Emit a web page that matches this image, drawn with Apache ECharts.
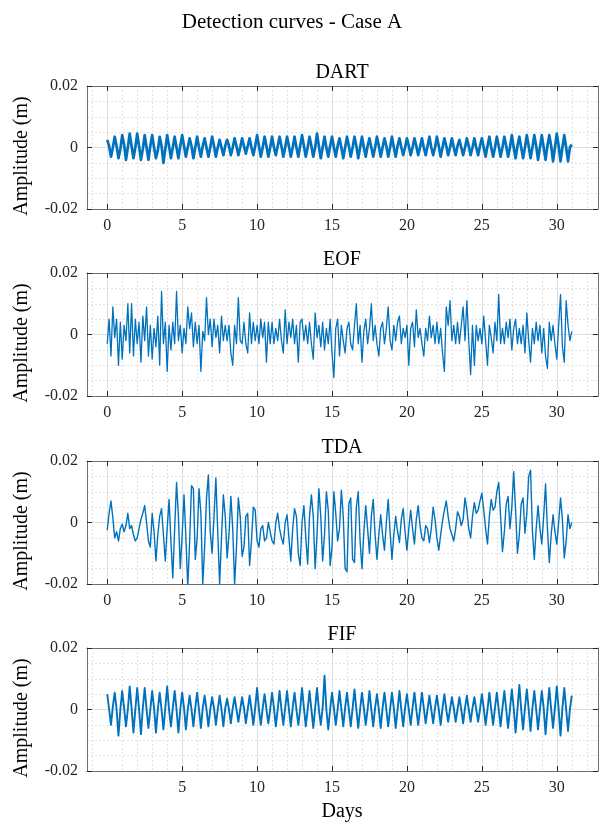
<!DOCTYPE html>
<html>
<head>
<meta charset="utf-8">
<script src="https://cdn.jsdelivr.net/npm/echarts@6/dist/echarts.min.js"></script>
<style>
  html, body { margin: 0; padding: 0; background: #ffffff; }
  #chart { width: 599px; height: 823px; }
</style>
</head>
<body>
<div id="chart"></div>
<script>
// Detection curves, Case A: four detectors sampled every 3 hours over 31 days.
const figureTitle = 'Detection curves - Case A';
const panelNames = ['DART', 'EOF', 'TDA', 'FIF'];
const sampleStepDays = 0.125;
const dayTicks = [0, 5, 10, 15, 20, 25, 30];
const bottomDayTicks = [5, 10, 15, 20, 25, 30];
const amplitudeTicks = [-0.02, 0, 0.02];

// Amplitudes in millimetres, one row per day (8 samples per day), last value at day 31.
const dartMm = [
  2.5, 0.5, -3, 0, 3.5, 0.5, -3.5, -0.5,
  4, 1, -4, 0, 4.5, 0.5, -3.5, 0,
  4.5, 0.5, -4, -0.5, 4, 0, -4, 0.5,
  4, 0, -3.5, -1, 3.5, 0.5, -5, -0.5,
  4, 0.5, -3.5, 0, 3.5, 0, -3.5, 0.5,
  4, 0.5, -3, 0, 3, 0.5, -3.5, 0,
  3.5, 0, -3, 0.5, 3, 0, -3, 0,
  3.5, 0.5, -3, 0, 2.5, 0, -2.5, 0.5,
  2.5, 0.5, -2.5, 0, 3, 0.5, -2.5, 0,
  3, 0.5, -2, 0.5, 3, 0, -2.5, 0.5,
  4, 0.5, -3, 0, 3.5, 0.5, -3, 0,
  3.5, 0, -2.5, 0.5, 3.5, 0.5, -3, 0,
  3.5, 0.5, -3, 0, 3.5, 0, -3, 0.5,
  4, 0.5, -3, 0, 3.5, 0.5, -3, 0,
  4.5, 0.5, -3.5, 0, 3.5, 0, -3, 0.5,
  3.5, 0, -3, 0.5, 3, 0, -3.5, 0,
  3.5, 0.5, -3, 0, 3.5, 0.5, -3.5, 0,
  3.5, 0, -3, 0.5, 3, 0, -3, 0,
  3.5, 0.5, -3, 0, 3, 0.5, -3, 0,
  3.5, 0, -3, 0.5, 3, 0, -2.5, 0,
  3, 0.5, -2.5, 0, 3, 0.5, -2.5, 0,
  3, 0, -2.5, 0.5, 3.5, 0, -2.5, 0,
  3.5, 0.5, -3, 0, 3, 0.5, -2.5, 0,
  3, 0, -2.5, 0.5, 2.5, 0, -2.5, 0,
  3, 0.5, -2.5, 0, 3, 0, -2.5, 0.5,
  3, 0, -3, 0.5, 3.5, 0, -3, 0,
  3.5, 0.5, -3, 0, 3.5, 0.5, -3, 0,
  4, 0, -3.5, 0.5, 3.5, 0, -3.5, 0,
  4, 0.5, -3.5, 0, 4, 0.5, -4, 0,
  4, 0, -4, 0.5, 4, 0.5, -4.5, 0,
  4.5, 0.5, -4.5, 0, 4, 0, -4.5, 0,
  1
];

const eofMm = [
  -3, 5, -7, 9, -1, 5, -10, 4,
  -8, 3, -2, 10, -6, 10, -7, 5,
  -3, 4, -9, 6, -2, 9, -7, 3,
  -8, 2, -4, 6, -10, 14, -3, 4,
  -12, 3, -5, 4, -3, 14, -2, 3,
  -6, 2, -3, 9, 2, 7, -4, 4,
  -3, 3, -12, 1, -2, 12, 0, 5,
  -4, 5, -1, 3, -6, 6, -2, 3,
  -2, 3, -6, -10, 3, -3, 12, -2,
  -3, 4, -3, -6, 7, -3, 4, -2,
  3, -3, 5, -1, 4, -9, 4, -3,
  4, -3, 2, -2, 5, -2, -6, 8,
  -3, 4, -1, 5, -3, 3, -9, 4,
  5, -2, 3, -3, 4, -3, -8, 7,
  -1, 3, -4, 4, -5, 2, -3, 5,
  -6, -14, 2, 5, -7, 3, -2, -6,
  2, 4, -3, -5, 3, 10, -3, 3,
  -9, 1, 5, -3, 2, 10, -2, 3,
  -3, -7, 2, 4, -3, 2, 9, -2,
  -5, 3, -2, 4, 6, -3, 2, -1,
  3, -10, 2, 4, -4, 8, -1, 2,
  -3, -7, 2, -2, 6, -1, 3, -3,
  4, -3, 2, -6, -12, 9, 3, 11,
  -2, 3, -3, 4, -3, 3, 9, -2,
  11, -2, -13, 3, -10, 3, -2, 2,
  -3, 6, -2, -10, 3, -1, -6, 4,
  -2, 13, -3, 2, -3, 4, -1, 5,
  -5, 2, 5, -3, 2, -3, 3, -6,
  7, -2, -9, 2, -3, 4, -2, 3,
  -6, 2, -7, -11, 4, -2, 3, -3,
  -8, 3, 13, -4, -9, 11, 3, -2,
  1
];

const tdaMm = [
  -2.5, 3, 7, 1.5, -5, -3, -6, -2,
  -0.5, -3, -1, 3, -2, -1, -4, -6,
  -5, -2, 1, 3, 5.5, 0, -6, -8,
  3, -3, -12.5, -4, 2, 4.5, -4, -12.5,
  -2, 7.5, -6, -18, -2, 13, 2, -15,
  -4, 9, -5, -21, -6, 12, 11, -12,
  -5, 11, 3, -20, -8, 8, 15.5, -3,
  -10, 2, 14.5, -3, -20, -5, 9, 2,
  -11.5, -4, 8.5, -2, -20, -8, 8, 2,
  -11, -8, 2, 3, -14, -6, 5, 4,
  -6, -8, -2, -1, -6, -5, 0, 0.5,
  -6, -7, 0, 3, -2, -5, -7, 0,
  2.5, -5, -12.5, -2, 4.5, 2, -10, -14,
  0, 5.5, -5, -13.5, 2, 9, 2, -15,
  -4, 11, 2, -12.5, -4, 10, 4, -14,
  -8, 10, 3, -6, -2, 10.5, 2, -15,
  -16, 6, 8, -12, -13, 5, 10, -6,
  -15, -3, 5.5, -2, -10, 2, 7.5, -4,
  -12, -4, 2.5, -4, -9, 0, 7.5, -3,
  -12, -4, 2, -3, -6.5, 1, 4.5, -3,
  -9, -2, 4, -2, -7, 1, 5.5, -1,
  -5, -6, -1, -2, -6.5, -2, 5, 1,
  -5, -9, -4, 0.5, 4, 7, 2, -2,
  -4, -6, -2, 3.5, 2, -1, 1, 8,
  4, -2, -5, 2, 6.5, 3, 4, 7,
  9.5, 4, -2, -7, 2, 7.5, 4, 5,
  10, 13, 2, -9.5, -3, 6, 8.5, -2,
  5, 16.5, 4, -10, -4, 6, 8, -3.5,
  3, 15, 17, -3, -12, -2, 5.5, -2,
  -7, 2, 12.5, -2, -13, -4, 2.5, -3,
  -7, 0, 8, 1, -11.5, -6, 2.5, -2,
  0
];

const fifMm = [
  5, 0, -5, 1, 5.5, 0, -8.5, 0,
  6, 0.5, -5.5, 0, 7.5, 0.5, -7.5, 0,
  7, 0, -8, 0.5, 7, 0, -6, 0,
  6, 0.5, -7.5, 0, 5.5, 0, -6.5, 0.5,
  7.5, 0, -5.5, 0.5, 6, 0, -7.5, 0,
  5.5, 0.5, -6.5, 0, 4.5, 0, -5.5, 0.5,
  5.5, 0, -6, 0.5, 4.5, 0, -5.5, 0,
  4, 0.5, -5, 0, 4.5, 0, -5.5, 0.5,
  3.5, 0, -4.5, 0.5, 4, 0, -4, 0,
  4, 0.5, -4.5, 0, 4.5, 0, -5, 0.5,
  7, 0, -5, 0.5, 5, 0, -4.5, 0,
  5.5, 0.5, -5.5, 0, 6, 0, -5, 0.5,
  6, 0, -5.5, 0.5, 5.5, 0, -5, 0,
  7, 0.5, -5.5, 0, 6, 0, -6, 0.5,
  7, 0, -5, 0.5, 11, 0, -6.5, 0,
  5.5, 0.5, -5, 0, 6, 0, -5.5, 0.5,
  5.5, 0, -5.5, 0.5, 6.5, 0, -6, 0,
  5.5, 0.5, -5, 0, 6, 0, -5.5, 0.5,
  5, 0, -6, 0.5, 5.5, 0, -5.5, 0,
  5.5, 0.5, -6, 0, 6, 0, -5.5, 0.5,
  5, 0, -5, 0.5, 5.5, 0, -5, 0,
  5.5, 0.5, -4.5, 0, 4.5, 0, -4.5, 0.5,
  4.5, 0, -5, 0.5, 5, 0, -4, 0,
  4, 0.5, -4, 0, 4, 0, -4.5, 0.5,
  4.5, 0, -4, 0.5, 4, 0, -4, 0,
  5, 0.5, -5, 0, 5.5, 0, -5, 0.5,
  5.5, 0, -5.5, 0.5, 6, 0, -6, 0,
  6.5, 0.5, -7.5, 0, 8, 0, -6.5, 0.5,
  6.5, 0, -7, 0.5, 6, 0, -6.5, 0,
  6, 0.5, -8, 0, 7, 0, -6, 0.5,
  7.5, 0, -8.5, 0.5, 7, 0, -7, 0,
  4.5
];

const seriesMm = [dartMm, eofMm, tdaMm, fifMm];
const lineWidths = [2.7, 1.3, 1.4, 1.9];

const FONT = '"Liberation Serif", "Times New Roman", serif';
const INK = '#262626';
const BOX = '#6e6e6e';
const LINE_BLUE = '#0072BD';
const MAJOR_GRID = '#dedede';
const MINOR_GRID = '#e2e2e2';
const panelTops = [86, 273, 461, 648];
const panelHeight = 123;
const panelLeft = 87;
const panelRight = 1;
const dayMin = -1.35, dayMax = 32.75;

const chart = echarts.init(document.getElementById('chart'), null, { renderer: 'canvas' });

const grids = [], xAxes = [], yAxes = [], series = [], graphics = [];

panelNames.forEach((name, i) => {
  const isBottom = i === panelNames.length - 1;
  const ticks = isBottom ? bottomDayTicks : dayTicks;
  grids.push({ left: panelLeft, right: panelRight, top: panelTops[i], height: panelHeight });

  const boxLine = { show: true, onZero: false, lineStyle: { color: BOX, width: 1 } };
  const inTick = { show: true, inside: true, length: 5, lineStyle: { color: INK, width: 1 } };

  xAxes.push({
    gridIndex: i, type: 'value', position: 'bottom', min: dayMin, max: dayMax, splitNumber: 7,
    axisLine: boxLine,
    axisTick: Object.assign({ customValues: ticks }, inTick),
    axisLabel: { customValues: ticks, fontFamily: FONT, fontSize: 16, color: INK, margin: 9 },
    splitLine: { show: true, lineStyle: { color: MAJOR_GRID, width: 1 } },
    minorTick: { show: false, splitNumber: 5 },
    minorSplitLine: { show: true, lineStyle: { color: MINOR_GRID, width: 1, type: [2, 2] } }
  });
  xAxes.push({
    gridIndex: i, type: 'value', position: 'top', min: dayMin, max: dayMax, splitNumber: 7,
    axisLine: boxLine,
    axisTick: Object.assign({ customValues: ticks }, inTick),
    axisLabel: { show: false },
    splitLine: { show: false }
  });
  yAxes.push({
    gridIndex: i, type: 'value', position: 'left', min: amplitudeTicks[0], max: amplitudeTicks[2], interval: 0.02,
    axisLine: boxLine,
    axisTick: inTick,
    axisLabel: { fontFamily: FONT, fontSize: 16, color: INK, margin: 9,
      formatter: v => (Math.abs(v) < 1e-12 ? '0' : v.toFixed(2)) },
    splitLine: { show: true, lineStyle: { color: MAJOR_GRID, width: 1 } },
    minorTick: { show: false, splitNumber: 4 },
    minorSplitLine: { show: true, lineStyle: { color: MINOR_GRID, width: 1, type: [2, 2] } }
  });
  yAxes.push({
    gridIndex: i, type: 'value', position: 'right', min: amplitudeTicks[0], max: amplitudeTicks[2], interval: 0.02,
    axisLine: boxLine,
    axisTick: inTick,
    axisLabel: { show: false },
    splitLine: { show: false }
  });

  series.push({
    type: 'line', name: name,
    xAxisIndex: 2 * i, yAxisIndex: 2 * i,
    data: seriesMm[i].map((mm, k) => [k * sampleStepDays, mm / 1000]),
    showSymbol: false, clip: true, sampling: null,
    lineStyle: { color: LINE_BLUE, width: lineWidths[i], join: 'round' },
    itemStyle: { color: LINE_BLUE },
    animation: false, silent: true
  });

  graphics.push({
    type: 'text', x: 342, y: panelTops[i] - 13,
    style: { text: name, font: '20px ' + FONT, fill: '#000', textAlign: 'center', textVerticalAlign: 'middle' }
  });
  graphics.push({
    type: 'text', x: 22, y: panelTops[i] + 70, rotation: Math.PI / 2,
    style: { text: 'Amplitude (m)', font: '20px ' + FONT, fill: '#000', textAlign: 'center', textVerticalAlign: 'middle' }
  });
});

graphics.push({
  type: 'text', x: 292, y: 22,
  style: { text: figureTitle, font: '21px ' + FONT, fill: '#000', textAlign: 'center', textVerticalAlign: 'middle' }
});
graphics.push({
  type: 'text', x: 342, y: 812,
  style: { text: 'Days', font: '20px ' + FONT, fill: '#000', textAlign: 'center', textVerticalAlign: 'middle' }
});

chart.setOption({
  backgroundColor: '#ffffff',
  animation: false,
  grid: grids,
  xAxis: xAxes,
  yAxis: yAxes,
  series: series,
  graphic: graphics
});
</script>
</body>
</html>
